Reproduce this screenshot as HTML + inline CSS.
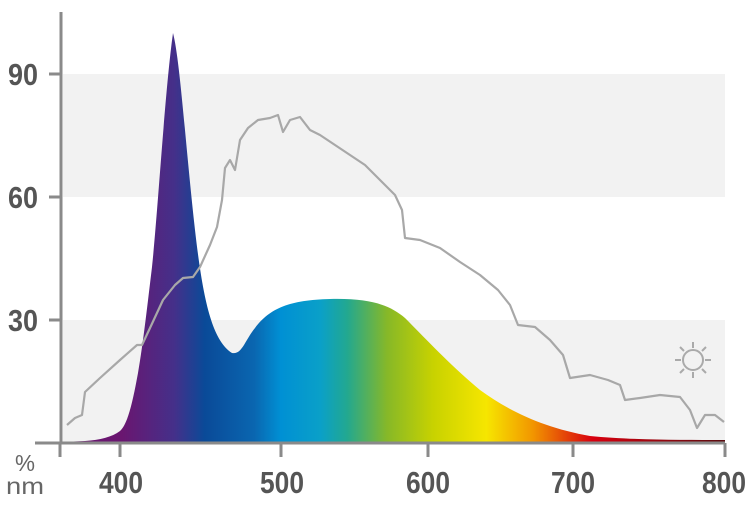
<!DOCTYPE html>
<html><head><meta charset="utf-8"><style>html,body{margin:0;padding:0;background:#fff}svg{display:block}</style></head>
<body>
<svg width="750" height="508" viewBox="0 0 750 508" xmlns="http://www.w3.org/2000/svg" font-family="Liberation Sans, sans-serif">
<defs>
<linearGradient id="sp" gradientUnits="userSpaceOnUse" x1="62" y1="0" x2="725" y2="0">
<stop offset="0.09" stop-color="#6a1670"/>
<stop offset="0.17" stop-color="#44308a"/>
<stop offset="0.215" stop-color="#0a4a98"/>
<stop offset="0.29" stop-color="#0a66b0"/>
<stop offset="0.33" stop-color="#0090d4"/>
<stop offset="0.39" stop-color="#0aa0c8"/>
<stop offset="0.43" stop-color="#22a890"/>
<stop offset="0.49" stop-color="#86b828"/>
<stop offset="0.56" stop-color="#c8d200"/>
<stop offset="0.64" stop-color="#f6e600"/>
<stop offset="0.71" stop-color="#f29600"/>
<stop offset="0.80" stop-color="#d8000f"/>
<stop offset="1" stop-color="#5a0c10"/>
</linearGradient>
</defs>
<rect x="63" y="74" width="662" height="123" fill="#f2f2f2"/>
<rect x="63" y="320" width="662" height="122" fill="#f2f2f2"/>
<path fill="url(#sp)" d="M62,442 L85,441 C100,440 112,437 120,431 C128,424 133,400 138,373 C143,345 148,300 152,267 C158,210 165,90 173,33 C180,60 185,140 195,230 C203,300 212,340 232,353 C242,355 245,340 255,328 C270,308 290,300 330,299 C370,298 390,305 405,318 C425,338 450,365 480,390 C510,412 545,428 590,436 C630,440 680,440 725,440 L725,442 Z"/>
<polyline fill="none" stroke="#a8a8a8" stroke-width="2.2" stroke-linejoin="round" points="67,425 75,418 82,415 85,392 100,378 120,360 137,345 142,345 150,328 163,300 175,285 183,278 193,277 200,267 210,245 217,227 222,200 225,168 230,160 235,170 240,140 248,128 258,120 270,118 278,115 283,132 290,120 300,117 310,130 320,135 335,145 350,155 365,165 380,180 395,195 402,210 405,238 420,240 440,248 460,262 480,275 498,290 510,305 518,325 535,327 550,340 563,355 570,378 590,375 608,380 620,385 625,400 640,398 660,395 680,397 690,410 697,428 705,415 715,415 724,422"/>
<g stroke="#aaa" stroke-width="2" fill="none">
<circle cx="693" cy="360" r="10"/>
<path d="M693,342v6M693,372v6M675,360h6M705,360h6M680,347l4,4M702,369l4,4M706,347l-4,4M684,369l-4,4"/>
</g>
<g stroke="#8a8a8a" stroke-width="3" fill="none">
<path d="M61,12V443"/>
<path d="M35,443H725"/>
<path d="M49,74H61M49,197H61M49,320H61"/>
<path d="M120,443v14M281,443v14M428,443v14M573,443v14M725,443v14M60,443v14"/>
</g>
<g fill="#555" font-weight="bold" font-size="31">
<text x="8" y="85" textLength="30" lengthAdjust="spacingAndGlyphs">90</text>
<text x="8" y="208" textLength="30" lengthAdjust="spacingAndGlyphs">60</text>
<text x="8" y="331" textLength="30" lengthAdjust="spacingAndGlyphs">30</text>
<text x="99" y="493" textLength="44" lengthAdjust="spacingAndGlyphs">400</text>
<text x="260" y="493" textLength="44" lengthAdjust="spacingAndGlyphs">500</text>
<text x="406" y="493" textLength="44" lengthAdjust="spacingAndGlyphs">600</text>
<text x="551" y="493" textLength="44" lengthAdjust="spacingAndGlyphs">700</text>
<text x="702" y="493" textLength="44" lengthAdjust="spacingAndGlyphs">800</text>
</g>
<g fill="#666" font-size="23">
<text x="15" y="471" textLength="20" lengthAdjust="spacingAndGlyphs">%</text>
<text x="6" y="494" textLength="38" lengthAdjust="spacingAndGlyphs">nm</text>
</g>
</svg>
</body></html>
